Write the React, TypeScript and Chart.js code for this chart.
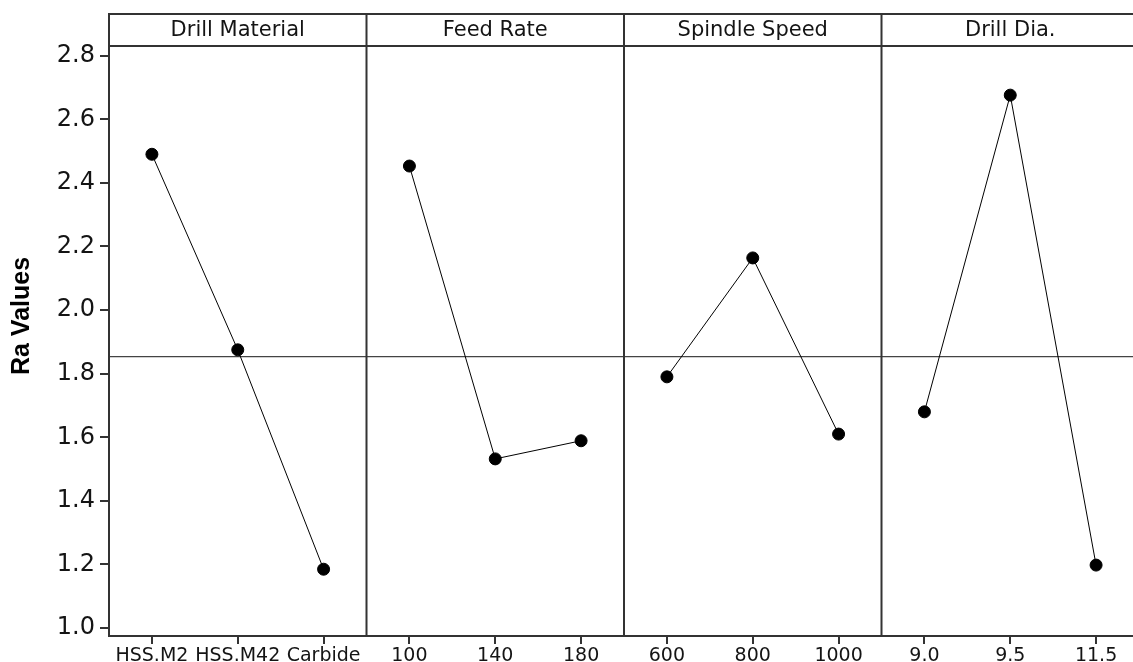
import React, { useEffect, useRef } from "react";
import { Chart, registerables } from "chart.js";

Chart.register(...registerables);

const factorNames = ["Drill Material", "Feed Rate", "Spindle Speed", "Drill Dia."];
const drillMaterialLevels = ["HSS.M2", "HSS.M42", "Carbide"];
const feedRateLevels = ["100", "140", "180"];
const spindleSpeedLevels = ["600", "800", "1000"];
const drillDiaLevels = ["9.0", "9.5", "11.5"];

const drillMaterialMeans = [2.49, 1.875, 1.185];
const feedRateMeans = [2.453, 1.532, 1.589];
const spindleSpeedMeans = [1.79, 2.164, 1.61];
const drillDiaMeans = [1.68, 2.676, 1.198];

const yTickValues = [1.0, 1.2, 1.4, 1.6, 1.8, 2.0, 2.2, 2.4, 2.6, 2.8];
const yMin = 0.975;
const yMax = 2.8305;
const yTitle = "Ra Values";

const levelGroups = [drillMaterialLevels, feedRateLevels, spindleSpeedLevels, drillDiaLevels];
const meanGroups = [drillMaterialMeans, feedRateMeans, spindleSpeedMeans, drillDiaMeans];

const FONT = "'DejaVu Sans', Verdana, sans-serif";
const INK = "#141414";
const FRAME = "#333333";

export default function App() {
  const ref = useRef<HTMLCanvasElement | null>(null);

  useEffect(() => {
    const canvas = ref.current;
    if (!canvas) return;

    const labels = levelGroups.flat();
    const allValues = meanGroups.flat();
    const grandMean = allValues.reduce((a, b) => a + b, 0) / allValues.length;

    const datasets = levelGroups.map((levels, g) => ({
      label: factorNames[g],
      data: levels.map((lv, i) => ({ x: lv, y: meanGroups[g][i] })),
      borderColor: "#000",
      borderWidth: 1,
      backgroundColor: "#000",
      pointBackgroundColor: "#000",
      pointBorderColor: "#000",
      pointRadius: 6,
      pointHoverRadius: 6,
      tension: 0,
      fill: false,
    }));

    const panelPlugin = {
      id: "panels",
      beforeDatasetsDraw(chart: any) {
        const { ctx, chartArea } = chart;
        const y = chart.scales.y.getPixelForValue(grandMean);
        ctx.save();
        ctx.strokeStyle = "#444";
        ctx.lineWidth = 1.2;
        ctx.beginPath();
        ctx.moveTo(chartArea.left, y);
        ctx.lineTo(chartArea.right, y);
        ctx.stroke();
        ctx.restore();
      },
      afterDraw(chart: any) {
        const { ctx, chartArea } = chart;
        const xs = chart.scales.x;
        const headerTop = 14;
        const top = chartArea.top;
        const bottom = chartArea.bottom;
        const bounds: number[] = [chartArea.left];
        let idx = 0;
        levelGroups.forEach((levels, g) => {
          idx += levels.length;
          if (g < levelGroups.length - 1) {
            bounds.push((xs.getPixelForValue(idx - 1) + xs.getPixelForValue(idx)) / 2);
          }
        });
        bounds.push(chartArea.right);

        ctx.save();
        ctx.strokeStyle = FRAME;
        ctx.lineWidth = 2;
        ctx.beginPath();
        ctx.moveTo(chartArea.left, headerTop);
        ctx.lineTo(chartArea.right + 20, headerTop);
        ctx.moveTo(chartArea.left, top);
        ctx.lineTo(chartArea.right + 20, top);
        ctx.stroke();
        ctx.beginPath();
        bounds.slice(0, bounds.length - 1).forEach((bx) => {
          ctx.moveTo(bx, headerTop - 1);
          ctx.lineTo(bx, bottom);
        });
        ctx.stroke();

        ctx.fillStyle = INK;
        ctx.font = `21px ${FONT}`;
        ctx.textAlign = "center";
        ctx.textBaseline = "middle";
        factorNames.forEach((name, g) => {
          const cx = (bounds[g] + bounds[g + 1]) / 2;
          ctx.fillText(name, cx, (headerTop + top) / 2 + 1);
        });

        ctx.font = `bold 25px 'Liberation Sans', Arial, sans-serif`;
        ctx.translate(22, 316);
        ctx.rotate(-Math.PI / 2);
        ctx.fillStyle = "#000";
        ctx.fillText(yTitle, 0, 0);
        ctx.restore();
      },
    };

    const chart = new Chart(canvas, {
      type: "line",
      data: { labels, datasets: datasets as any },
      options: {
        animation: false,
        responsive: false,
        devicePixelRatio: 1,
        layout: { padding: { top: 46, left: 0, right: 3, bottom: 0 } },
        plugins: {
          legend: { display: false },
          tooltip: { enabled: false },
          title: { display: false },
        },
        scales: {
          x: {
            type: "category",
            offset: true,
            grid: {
              display: true,
              drawOnChartArea: false,
              drawTicks: true,
              tickLength: 8,
              color: FRAME,
              lineWidth: 2,
            },
            border: { display: true, color: FRAME, width: 2 },
            ticks: {
              color: INK,
              font: { family: FONT, size: 19 },
              maxRotation: 0,
              autoSkip: false,
              padding: 1,
            },
            afterFit(scale: any) {
              scale.height = 26;
            },
          },
          y: {
            type: "linear",
            min: yMin,
            max: yMax,
            grid: {
              display: true,
              drawOnChartArea: false,
              drawTicks: true,
              tickLength: 9,
              color: FRAME,
              lineWidth: 2,
            },
            border: { display: true, color: FRAME, width: 2 },
            ticks: {
              color: INK,
              font: { family: FONT, size: 24 },
              padding: 5,
              callback: (v: any) => Number(v).toFixed(1),
            },
            afterBuildTicks(scale: any) {
              scale.ticks = yTickValues.map((v) => ({ value: v }));
            },
            afterFit(scale: any) {
              scale.width = 109;
            },
          },
        },
      },
      plugins: [panelPlugin],
    });

    return () => chart.destroy();
  }, []);

  return (
    <div
      style={{
        position: "fixed",
        left: 0,
        top: 0,
        width: 1133,
        height: 662,
        overflow: "hidden",
        background: "#fff",
      }}
    >
      <canvas ref={ref} width={1146} height={662} style={{ display: "block", width: 1146, height: 662 }} />
    </div>
  );
}
